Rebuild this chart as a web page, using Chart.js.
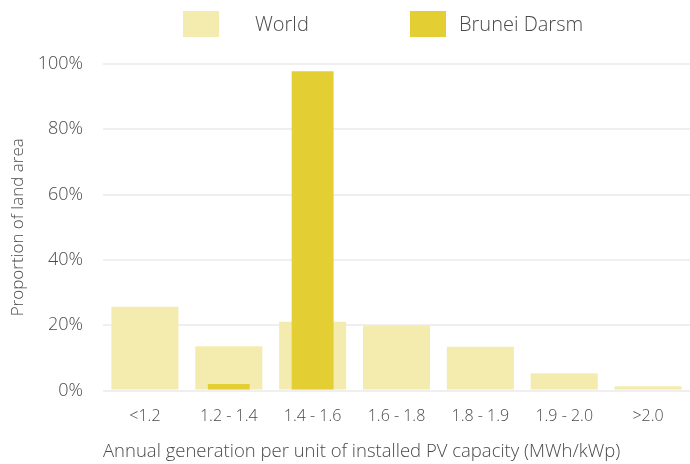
<!DOCTYPE html>
<html>
<head>
<meta charset="utf-8">
<script src="https://cdn.jsdelivr.net/npm/chart.js@4.4.1/dist/chart.umd.min.js"></script>
<style>
  html, body { margin: 0; padding: 0; background: #fff; }
  #wrap { width: 690px; height: 464px; }
</style>
</head>
<body>
<div id="wrap"><canvas id="pvChart"></canvas></div>
<script>
// categories and values
const categories = ['<1.2', '1.2 - 1.4', '1.4 - 1.6', '1.6 - 1.8', '1.8 - 1.9', '1.9 - 2.0', '>2.0'];
const worldValues = [25.7, 13.6, 21.1, 19.9, 13.4, 5.3, 1.3];
const bruneiValues = [0, 2.0, 97.8, 0.3, 0, 0, 0];
const yTicks = [0, 20, 40, 60, 80, 100];

const textColor = '#4a4a4a';
const fontFamily = '"Open Sans", Lato, sans-serif';

// legend drawn by hand: the boxes sit at fixed places over the plot
const legendBoxX = [183, 410];
const legendTextX = [255, 459];

const legendPlugin = {
    id: 'fixedLegend',
    afterDraw(chart) {
        const ctx = chart.ctx;
        ctx.save();
        ctx.font = '300 20px ' + fontFamily;
        ctx.textBaseline = 'middle';
        ctx.textAlign = 'left';
        chart.data.datasets.forEach((ds, i) => {
            ctx.fillStyle = ds.backgroundColor;
            ctx.fillRect(legendBoxX[i], 11, 36, 26);
            ctx.fillStyle = textColor;
            ctx.fillText(ds.label, legendTextX[i], 25);
        });
        ctx.restore();
    }
};

const ctx = document.getElementById('pvChart').getContext('2d');
const pvChart = new Chart(ctx, {
    type: 'bar',
    data: {
        labels: categories,
        datasets: [
            {
                label: 'World',
                data: worldValues,
                backgroundColor: '#F4ECAF',
                barPercentage: 1.0,
                categoryPercentage: 0.8,
                grouped: false,
                order: 2
            },
            {
                label: 'Brunei Darsm',
                data: bruneiValues,
                backgroundColor: '#E3CF33',
                barPercentage: 0.625,
                categoryPercentage: 0.8,
                grouped: false,
                order: 1
            }
        ]
    },
    options: {
        responsive: true,
        maintainAspectRatio: false,
        animation: false,
        layout: { padding: { top: 64, right: 0, bottom: 1, left: 0 } },
        plugins: {
            legend: { display: false },
            tooltip: { enabled: false }
        },
        scales: {
            x: {
                grid: { display: false },
                border: { display: false },
                ticks: {
                    color: textColor,
                    font: { family: fontFamily, size: 16, weight: '300' },
                    padding: 8,
                    maxRotation: 0
                },
                title: {
                    display: true,
                    text: 'Annual generation per unit of installed PV capacity (MWh/kWp)',
                    color: textColor,
                    align: 'start',
                    font: { family: fontFamily, size: 18.5, weight: '300' },
                    padding: { top: 7, bottom: 0 }
                }
            },
            y: {
                min: 0,
                max: 100,
                afterBuildTicks(scale) {
                    scale.ticks = yTicks.map(v => ({ value: v }));
                },
                afterFit(scale) {
                    scale.width = 103;
                },
                grid: {
                    color: '#EFEFEF',
                    lineWidth: 2,
                    drawTicks: false
                },
                border: { display: false },
                ticks: {
                    color: textColor,
                    font: { family: fontFamily, size: 18, weight: '300' },
                    padding: 20,
                    callback: v => v + '%'
                },
                title: {
                    display: true,
                    text: 'Proportion of land area',
                    color: textColor,
                    font: { family: fontFamily, size: 17, weight: '300' },
                    padding: { top: 8, bottom: 0 }
                }
            }
        }
    },
    plugins: [legendPlugin]
});
</script>
</body>
</html>
